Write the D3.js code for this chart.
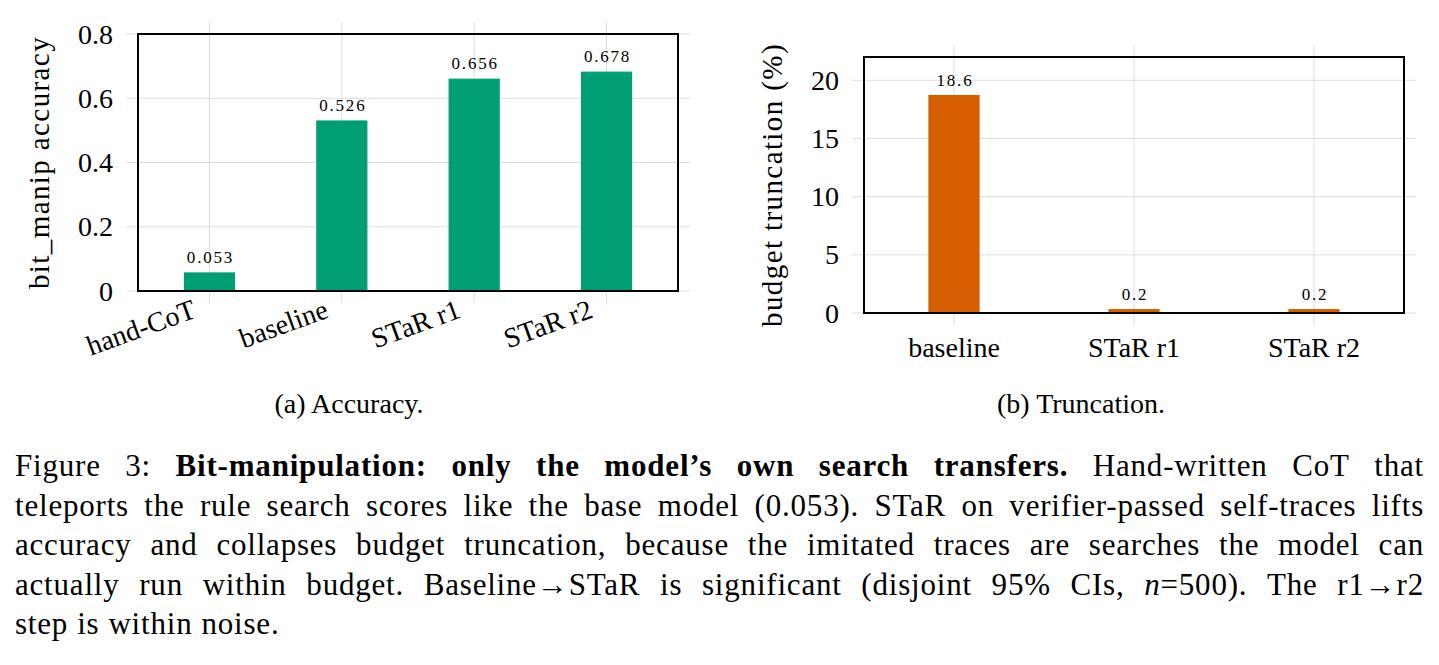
<!DOCTYPE html>
<html>
<head>
<meta charset="utf-8">
<script src="https://cdn.jsdelivr.net/npm/d3@7"></script>
<style>
  body { margin: 0; background: #fff; }
  svg text { font-family: "Liberation Serif", "DejaVu Serif", serif; fill: #000; }
</style>
</head>
<body>
<div id="fig"></div>
<script>
// data
var accCats = ["hand-CoT", "baseline", "STaR r1", "STaR r2"];
var accVals = [0.053, 0.526, 0.656, 0.678];
var accTicks = [0, 0.2, 0.4, 0.6, 0.8];

var truncCats = ["baseline", "STaR r1", "STaR r2"];
var truncVals = [18.6, 0.2, 0.2];
var truncTicks = [0, 5, 10, 15, 20];

var green = "#009e73";
var orange = "#d55e00";

var svg = d3.select("#fig").append("svg")
  .attr("width", 1439)
  .attr("height", 665);

// draws one panel: grid, outside ticks, bars, value labels, frame
function drawPanel(opt) {
  var g = svg.append("g");
  var x = opt.x, y = opt.y;
  var x0 = x.range()[0], x1 = x.range()[1];
  var y0 = y.range()[0], y1 = y.range()[1];
  var tl = 12;

  // grid (runs past the frame as tick marks)
  g.selectAll("line.hgrid").data(opt.ticks).enter().append("line")
    .attr("x1", x0 - tl).attr("x2", x1 + tl)
    .attr("y1", d => y(d)).attr("y2", d => y(d))
    .attr("stroke", "#dedede").attr("stroke-width", 1);
  g.selectAll("line.vgrid").data(opt.cats).enter().append("line")
    .attr("x1", d => x(d)).attr("x2", d => x(d))
    .attr("y1", y1 - tl).attr("y2", y0 + tl)
    .attr("stroke", "#dedede").attr("stroke-width", 1);

  // y tick labels
  g.selectAll("text.ytick").data(opt.ticks).enter().append("text")
    .attr("x", x0 - 25)
    .attr("y", d => y(d))
    .attr("dy", "0.34em")
    .attr("text-anchor", "end")
    .style("font-size", "28px")
    .text(opt.fmt);

  // bars
  g.selectAll("rect.bar").data(opt.vals).enter().append("rect")
    .attr("x", (d, i) => x(opt.cats[i]) - 25)
    .attr("width", 50)
    .attr("y", d => y(d) - 1)
    .attr("height", d => y0 - y(d) + 1)
    .attr("fill", opt.color)
    .attr("stroke", opt.color)
    .attr("stroke-width", 1.2);

  // value labels
  g.selectAll("text.val").data(opt.vals).enter().append("text")
    .attr("x", (d, i) => x(opt.cats[i]) + 1)
    .attr("y", d => y(d) - 11)
    .attr("text-anchor", "middle")
    .style("font-size", "17px")
    .style("letter-spacing", "1.8px")
    .text(opt.valFmt);

  // frame
  g.append("rect")
    .attr("x", x0).attr("y", y1)
    .attr("width", x1 - x0).attr("height", y0 - y1)
    .attr("fill", "none").attr("stroke", "#000").attr("stroke-width", 2);

  // y axis title
  g.append("text")
    .attr("transform", `translate(${opt.ylabX}, ${(y0 + y1) / 2}) rotate(-90)`)
    .attr("text-anchor", "middle")
    .style("font-size", "29px")
    .style("letter-spacing", "1.4px")
    .text(opt.ylab);

  return g;
}

// (a) accuracy
var xA = d3.scalePoint().domain(accCats).range([138, 678]).padding(0.54);
var yA = d3.scaleLinear().domain([0, 0.8]).range([291, 34]);
var gA = drawPanel({
  x: xA, y: yA, cats: accCats, vals: accVals, ticks: accTicks,
  fmt: d => d === 0 ? "0" : d3.format(".1f")(d),
  valFmt: d => d3.format(".3f")(d),
  color: green, ylab: "bit_manip accuracy", ylabX: 49
});
gA.selectAll("text.xlab").data(accCats).enter().append("text")
  .attr("transform", d => `translate(${xA(d) - 12}, 317) rotate(-20)`)
  .attr("text-anchor", "end")
  .style("font-size", "28px")
  .text(d => d);

// (b) truncation
var xT = d3.scalePoint().domain(truncCats).range([864, 1404]).padding(0.5);
var yT = d3.scaleLinear().domain([0, 22]).range([313, 57]);
var gT = drawPanel({
  x: xT, y: yT, cats: truncCats, vals: truncVals, ticks: truncTicks,
  fmt: d => d,
  valFmt: d => d3.format(".1f")(d),
  color: orange, ylab: "budget truncation (%)", ylabX: 782
});
gT.selectAll("text.xlab").data(truncCats).enter().append("text")
  .attr("x", d => xT(d))
  .attr("y", 357)
  .attr("text-anchor", "middle")
  .style("font-size", "28px")
  .text(d => d);

// sub captions
svg.append("text").attr("x", 349).attr("y", 413).attr("text-anchor", "middle")
  .style("font-size", "28px").text("(a) Accuracy.");
svg.append("text").attr("x", 1081).attr("y", 413).attr("text-anchor", "middle")
  .style("font-size", "28px").text("(b) Truncation.");

// figure caption, justified line by line
var capLines = [
  "Figure 3: |*Bit-manipulation: only the model\u2019s own search transfers.| Hand-written CoT that",
  "teleports the rule search scores like the base model (0.053). STaR on verifier-passed self-traces lifts",
  "accuracy and collapses budget truncation, because the imitated traces are searches the model can",
  "actually run within budget. Baseline\u2192STaR is significant (disjoint 95% CIs, _n_=500). The r1\u2192r2",
  "step is within noise."
];
var capLeft = 15, capRight = 1424, capY0 = 476, capStep = 39.5;

capLines.forEach(function(line, li) {
  // split into words, bold spans marked with |* ... |, italics with _ ... _
  var bold = false;
  var words = line.split(" ").map(function(w) {
    var segs = [];
    var parts = w.split(/(\|\*|\||_)/);
    var italic = false;
    parts.forEach(function(p) {
      if (p === "|*") { bold = true; return; }
      if (p === "|") { bold = false; return; }
      if (p === "_") { italic = !italic; return; }
      if (p !== "") segs.push({ t: p, b: bold, i: italic });
    });
    return segs;
  });

  var lg = svg.append("g");
  var nodes = words.map(function(segs) {
    var t = lg.append("text").attr("y", capY0 + li * capStep)
      .style("font-size", "31px")
      .style("letter-spacing", "0.8px");
    segs.forEach(function(s) {
      t.append("tspan")
        .style("font-weight", s.b ? "bold" : "normal")
        .style("font-style", s.i ? "italic" : "normal")
        .text(s.t);
    });
    return t;
  });
  var widths = nodes.map(n => n.node().getComputedTextLength());
  var total = d3.sum(widths);
  var last = li === capLines.length - 1;
  var gap = last ? 9 : (capRight - capLeft - total) / (nodes.length - 1);
  var cx = capLeft;
  nodes.forEach(function(n, k) {
    n.attr("x", cx);
    cx += widths[k] + gap;
  });
});
</script>
</body>
</html>
